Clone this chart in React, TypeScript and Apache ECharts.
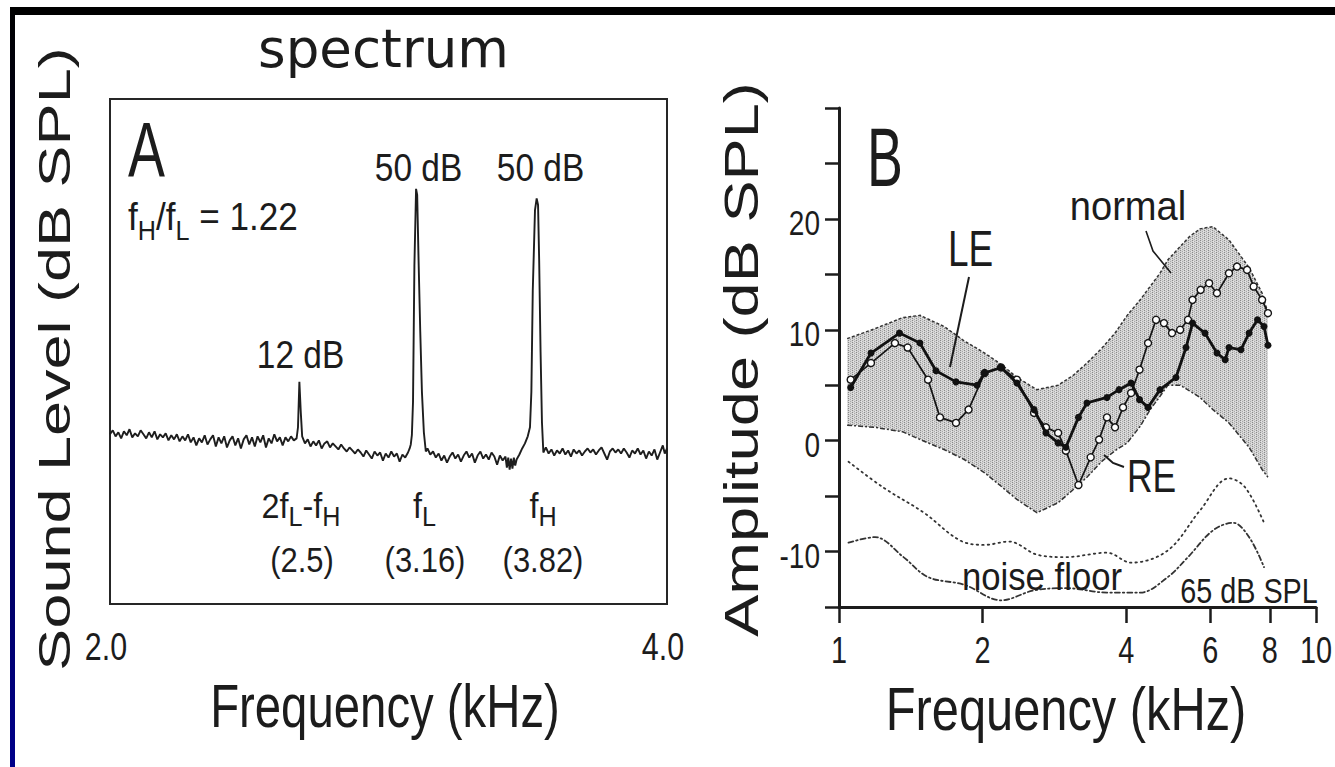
import { useEffect, useRef } from 'react';
import * as echarts from 'echarts';

// ---------- tick / label values ----------
const freqLabelsA = [2, 4];
const freqTicksB = [1, 2, 4, 6, 8, 10];
const ampLabelsB = [-10, 0, 10, 20];

// ---------- Panel A: measured spectrum [kHz, dB] ----------
const spectrumA: [number, number][] = [
  [2.00, 1.6], [2.01, 2.4], [2.02, 1.2], [2.03, 2.0], [2.04, 0.8], [2.05, 2.2], [2.06, 1.4], [2.07, 2.6], [2.08, 1.0], [2.09, 1.8],
  [2.10, 1.2], [2.11, 2.4], [2.12, 1.6], [2.13, 0.8], [2.14, 2.0], [2.15, 1.0], [2.16, 2.2], [2.17, 0.6], [2.18, 1.6], [2.19, 1.0],
  [2.20, 1.8], [2.21, 0.4], [2.22, 1.4], [2.23, 0.6], [2.24, 1.6], [2.25, 0.2], [2.26, 1.2], [2.27, 0.4], [2.28, 1.6], [2.29, 0.0],
  [2.30, 1.0], [2.31, -0.6], [2.32, 0.8], [2.33, 0.0], [2.34, 1.4], [2.35, -0.4], [2.36, 0.6], [2.37, 1.4], [2.38, -0.8], [2.39, 1.0],
  [2.40, -0.2], [2.41, 1.2], [2.42, -1.0], [2.43, 0.4], [2.44, 1.2], [2.45, -0.6], [2.46, 0.8], [2.47, -1.2], [2.48, 0.6], [2.49, 1.4],
  [2.50, -0.4], [2.51, 1.0], [2.52, -0.8], [2.53, 1.2], [2.54, 0.0], [2.55, 1.4], [2.56, -1.0], [2.57, 0.8], [2.58, -0.2], [2.59, 1.6],
  [2.60, 0.2], [2.61, 1.0], [2.62, -0.6], [2.63, 1.0], [2.64, 0.2], [2.65, 1.2], [2.66, 0.4], [2.67, 0.8],
  [2.675, 3.0], [2.68, 12.0], [2.685, 6.0], [2.69, 1.2],
  [2.70, -0.2], [2.71, 0.6], [2.72, -0.8], [2.73, 0.2], [2.74, -0.6], [2.75, 0.4], [2.76, -1.2], [2.77, -0.2], [2.78, 0.2], [2.79, -1.0],
  [2.80, -0.2], [2.81, -0.8], [2.82, -1.4], [2.83, -0.4], [2.84, -1.2], [2.85, -1.8], [2.86, -1.0], [2.87, -1.6], [2.88, -2.2], [2.89, -1.4],
  [2.90, -2.0], [2.91, -2.8], [2.92, -1.6], [2.93, -2.4], [2.94, -3.2], [2.95, -1.8], [2.96, -2.6], [2.97, -2.0], [2.98, -3.6], [2.99, -2.2],
  [3.00, -3.0], [3.01, -1.8], [3.02, -2.8], [3.03, -2.2], [3.04, -3.8], [3.05, -2.4], [3.06, -3.0], [3.07, -2.0], [3.076, -1.2], [3.080, -0.4],
  [3.084, 1.5], [3.088, 8], [3.093, 35], [3.099, 50.2], [3.103, 49], [3.108, 36], [3.114, 22], [3.12, 10], [3.127, 2], [3.134, -1.8],
  [3.14, -1.2], [3.15, -2.4], [3.16, -1.8], [3.17, -3.0], [3.18, -2.2], [3.19, -3.6], [3.20, -2.6], [3.21, -4.0], [3.22, -2.8], [3.23, -2.0],
  [3.24, -3.2], [3.25, -2.4], [3.26, -3.8], [3.27, -2.6], [3.28, -1.8], [3.29, -3.0], [3.30, -2.2], [3.31, -4.0], [3.32, -2.6], [3.33, -1.8],
  [3.34, -3.2], [3.35, -2.4], [3.36, -3.4], [3.37, -2.0], [3.38, -2.8], [3.39, -4.4], [3.40, -2.6], [3.41, -3.6], [3.42, -2.8], [3.425, -5.0],
  [3.43, -3.0], [3.435, -5.4], [3.44, -3.2], [3.445, -5.2], [3.45, -3.0], [3.455, -4.6], [3.46, -3.4], [3.47, -2.4], [3.48, -1.2], [3.49, -0.2],
  [3.50, 1.2], [3.508, 3.0], [3.513, 10], [3.518, 30], [3.526, 46], [3.532, 48.3], [3.537, 47], [3.541, 36], [3.546, 18], [3.551, 4], [3.556, -2.0],
  [3.565, -1.0], [3.575, -2.2], [3.585, -1.4], [3.595, -2.6], [3.605, -1.6], [3.615, -2.2], [3.625, -1.2], [3.635, -2.4], [3.645, -1.6], [3.655, -2.8],
  [3.665, -1.4], [3.675, -2.2], [3.685, -1.6], [3.695, -2.6], [3.705, -1.8], [3.715, -1.2], [3.725, -2.0], [3.735, -1.4], [3.745, -2.4], [3.755, -1.6],
  [3.765, -1.0], [3.775, -2.2], [3.785, -3.4], [3.795, -1.8], [3.805, -1.2], [3.815, -2.0], [3.825, -1.4], [3.835, -2.2], [3.845, -1.2], [3.855, -2.0],
  [3.865, -3.0], [3.875, -1.6], [3.885, -2.2], [3.895, -1.2], [3.905, -2.4], [3.915, -1.6], [3.925, -3.2], [3.935, -1.8], [3.945, -2.6], [3.955, -1.4],
  [3.965, -3.4], [3.975, -2.0], [3.985, -0.6], [3.992, -2.2], [4.00, -1.2],
];

// ---------- Panel B: normal range band ----------
const bandFreq = [1.04, 1.19, 1.36, 1.48, 1.66, 1.83, 2.02, 2.2, 2.36, 2.6, 2.88, 3.1, 3.31, 3.55, 3.79, 4.02, 4.28, 4.49, 4.71, 4.89, 5.19, 5.43, 5.71, 6.08, 6.57, 7.24, 7.71, 7.93];
const bandUpper = [9.2, 10.1, 11.1, 11.3, 10.3, 9.0, 7.9, 6.8, 5.7, 4.6, 5.0, 5.9, 7.0, 8.3, 9.7, 11.3, 12.7, 13.9, 15.1, 16.3, 17.5, 18.4, 19.1, 19.3, 18.1, 15.6, 13.3, 11.5];
const bandLower = [1.4, 1.2, 0.8, 0.1, -0.8, -1.7, -2.9, -4.2, -5.3, -6.5, -5.6, -4.4, -3.3, -1.9, -0.9, -0.2, 1.3, 2.8, 4.0, 5.0, 5.0, 4.5, 3.9, 2.8, 1.6, -0.6, -2.6, -3.3];

// ---------- Panel B: noise floors [kHz, dB] ----------
const noiseFloorHigh: [number, number][] = [
  [1.047, -1.9], [1.236, -4.2], [1.507, -6.5], [1.794, -9.0], [2.02, -9.4], [2.272, -9.1], [2.61, -10.3], [2.99, -10.5],
  [3.646, -10.1], [4.096, -11.0], [4.89, -9.9], [5.71, -6.3], [6.57, -3.4], [7.10, -4.2], [7.78, -7.4],
];
const noiseFloorLow: [number, number][] = [
  [1.047, -9.2], [1.19, -8.7], [1.365, -10.5], [1.537, -12.3], [1.833, -13.0], [2.186, -14.4], [2.564, -13.5], [2.99, -13.3],
  [3.646, -13.7], [4.28, -13.7], [4.89, -12.3], [5.39, -10.5], [6.08, -8.1], [6.70, -7.4], [7.24, -8.7], [7.78, -11.4],
];

// ---------- Panel B: ears [kHz, dB] ----------
const leftEar: [number, number][] = [
  [1.058, 4.8], [1.167, 7.9], [1.339, 9.7], [1.478, 8.8], [1.597, 6.3], [1.759, 5.3], [1.947, 5.0], [2.02, 6.1], [2.186, 6.6],
  [2.36, 5.2], [2.564, 2.8], [2.716, 0.7], [2.88, -0.2], [2.99, -0.6], [3.177, 2.1], [3.31, 3.4], [3.646, 3.9], [3.864, 4.6],
  [4.096, 5.2], [4.266, 3.7], [4.445, 3.0], [4.71, 4.6], [5.087, 5.7], [5.34, 8.4], [5.51, 10.6], [5.85, 9.7], [6.20, 7.9],
  [6.45, 7.3], [6.57, 8.4], [6.96, 8.2], [7.24, 9.7], [7.54, 10.9], [7.78, 10.3], [7.93, 8.6],
];
const rightEar: [number, number][] = [
  [1.058, 5.5], [1.167, 7.0], [1.31, 8.8], [1.393, 8.4], [1.537, 5.5], [1.628, 2.1], [1.759, 1.6], [1.869, 2.8], [2.02, 6.1],
  [2.186, 6.6], [2.36, 5.5], [2.564, 2.5], [2.716, 1.2], [2.88, 0.7], [2.99, -0.9], [3.177, -4.0], [3.37, -1.5], [3.51, 0.1],
  [3.646, 2.1], [3.79, 1.2], [3.94, 3.0], [4.096, 4.3], [4.266, 6.4], [4.445, 8.8], [4.62, 10.9], [4.80, 10.6], [4.99, 9.7],
  [5.19, 10.0], [5.39, 10.9], [5.51, 12.7], [5.73, 13.6], [5.97, 14.2], [6.20, 13.3], [6.57, 15.1], [6.83, 15.7], [7.17, 15.4],
  [7.40, 13.9], [7.71, 12.7], [7.93, 11.5],
];

// ---------- styling ----------
const SANS = "'Liberation Sans', Arial, Helvetica, sans-serif";
const INK = '#1c1c1c';

const lg = (f: number) => Math.log10(f);
const toB = (pts: [number, number][]) => pts.map(([f, v]) => [lg(f), v]);

function txt(text: string, x: number, y: number, size: number, sx: number, align = 'center', rotation = 0, family = SANS) {
  return {
    type: 'text',
    x,
    y,
    rotation,
    scaleX: sx,
    z: 20,
    silent: true,
    style: {
      text,
      font: `${size}px ${family}`,
      fill: INK,
      align,
      verticalAlign: 'middle',
      textAlign: align,
      textVerticalAlign: 'middle',
    },
  };
}

function leader(points: number[][], w = 2) {
  return { type: 'polyline', z: 20, silent: true, shape: { points }, style: { stroke: INK, lineWidth: w, fill: null } };
}

function stipple() {
  const c = document.createElement('canvas');
  c.width = 4;
  c.height = 4;
  const g = c.getContext('2d');
  if (!g) return '#c8c8c8';
  g.fillStyle = '#d3d3d3';
  g.fillRect(0, 0, 4, 4);
  g.fillStyle = '#8a8a8a';
  g.fillRect(0, 0, 1, 1);
  g.fillRect(0, 2, 1, 1);
  g.fillStyle = '#a9a9a9';
  g.fillRect(2, 1, 1, 1);
  g.fillRect(2, 3, 1, 1);
  g.fillStyle = '#e4e4e4';
  g.fillRect(1, 1, 1, 1);
  g.fillRect(3, 3, 1, 1);
  return { image: c, repeat: 'repeat' };
}

function staticGraphic(): any[] {
  return [
    // slide frame
    { type: 'rect', z: 30, shape: { x: 10, y: 7, width: 1325, height: 8 }, style: { fill: '#000' } },
    {
      type: 'rect', z: 30, shape: { x: 10, y: 7, width: 5, height: 760 },
      style: {
        fill: {
          type: 'linear', x: 0, y: 0, x2: 0, y2: 1,
          colorStops: [{ offset: 0, color: '#000000' }, { offset: 0.45, color: '#00003a' }, { offset: 1, color: '#00008a' }],
        },
      },
    },
    txt('spectrum', 383.5, 48.7, 53, 1, 'center', 0, "'DejaVu Sans', Verdana, sans-serif"),

    // ---- panel A texts ----
    txt('Sound Level (dB SPL)', 54, 359, 45, 1.4, 'center', Math.PI / 2),
    txt('Frequency (kHz)', 385, 706, 61, 0.776),
    txt('A', 128, 150.5, 77, 0.72, 'left'),
    txt('f', 128, 216.4, 39, 0.9, 'left'),
    txt('H', 137.8, 230.2, 28, 0.9, 'left'),
    txt('/f', 156, 216.4, 39, 0.9, 'left'),
    txt('L', 175.5, 230.2, 28, 0.9, 'left'),
    txt('= 1.22', 199.3, 216.4, 39, 0.9, 'left'),
    txt('50 dB', 418.5, 168.5, 38, 0.88),
    txt('50 dB', 540.5, 168.5, 38, 0.88),
    txt('12 dB', 300.5, 355.5, 38, 0.88),
    txt('2f', 261.5, 505.4, 36, 0.9, 'left'),
    txt('L', 288.5, 516.2, 28, 0.9, 'left'),
    txt('-f', 302.5, 505.4, 36, 0.9, 'left'),
    txt('H', 322.3, 516.2, 28, 0.9, 'left'),
    txt('f', 413, 505.4, 36, 0.9, 'left'),
    txt('L', 422, 516.2, 28, 0.9, 'left'),
    txt('f', 529.4, 505.4, 36, 0.9, 'left'),
    txt('H', 538.4, 516.2, 28, 0.9, 'left'),
    txt('(2.5)', 302, 560, 36, 0.86),
    txt('(3.16)', 425, 560, 36, 0.86),
    txt('(3.82)', 543, 560, 36, 0.86),

    // ---- panel B texts ----
    txt('Amplitude (dB SPL)', 741, 359.5, 47.5, 1.33, 'center', Math.PI / 2),
    txt('Frequency (kHz)', 1066, 709, 61, 0.8),
    txt('B', 867, 157, 84, 0.64, 'left'),
    txt('normal', 1128, 205.8, 41, 0.93),
    txt('LE', 970.5, 248, 50, 0.74),
    txt('RE', 1151.5, 476.5, 46, 0.77),
    txt('noise floor', 1042, 576.5, 39, 0.89),
    txt('65 dB SPL', 1249, 590, 36, 0.8),
    leader([[969, 277], [950, 367]], 2),
    leader([[1146, 231], [1153, 251], [1171, 273]], 1.6),
    leader([[1104, 455], [1113, 463], [1124, 467]], 2),
  ];
}

function buildOption() {
  const axisLineB = { show: true, onZero: false, lineStyle: { color: INK, width: 3 } };
  const tickStyleB = { color: INK, width: 2.5 };
  const bandFill = stipple();

  return {
    animation: false,
    backgroundColor: '#ffffff',
    grid: [
      { left: 110, top: 99, width: 557, height: 505, show: true, borderColor: '#262626', borderWidth: 2, backgroundColor: 'transparent' },
      { left: 839, top: 108, width: 477, height: 499, show: false },
    ],
    xAxis: [
      {
        type: 'value', gridIndex: 0, min: freqLabelsA[0], max: freqLabelsA[1], interval: 2,
        axisLine: { show: false, onZero: false }, axisTick: { show: false }, splitLine: { show: false },
        axisLabel: { show: false },
      },
      {
        type: 'value', gridIndex: 1, min: 0, max: 1,
        axisLine: axisLineB,
        axisTick: { show: true, customValues: freqTicksB.map(lg), length: 16, lineStyle: tickStyleB },
        axisLabel: { show: false },
        splitLine: { show: false },
      },
    ],
    yAxis: [
      { type: 'value', gridIndex: 0, min: -32, max: 68, show: false },
      {
        type: 'value', gridIndex: 1, min: -15, max: 30, interval: 5,
        axisLine: axisLineB,
        axisTick: { show: true, length: 14, lineStyle: tickStyleB },
        axisLabel: { show: false },
        splitLine: { show: false },
      },
    ],
    series: [
      {
        name: 'spectrum', type: 'line', xAxisIndex: 0, yAxisIndex: 0, data: spectrumA, symbol: 'none',
        lineStyle: { color: '#1e1e1e', width: 1.9 }, z: 3,
      },
      {
        name: 'normal', type: 'custom', xAxisIndex: 1, yAxisIndex: 1, z: 2, silent: true,
        data: bandFreq.map((f, i) => [lg(f), bandUpper[i], bandLower[i]]),
        encode: { x: 0, y: [1, 2] },
        renderItem: (params: any, api: any) => {
          if (params.dataIndex !== 0) return null;
          const up = bandFreq.map((f, i) => api.coord([lg(f), bandUpper[i]]));
          const lo = bandFreq.map((f, i) => api.coord([lg(f), bandLower[i]]));
          return {
            type: 'group',
            children: [
              { type: 'polygon', shape: { points: up.concat(lo.slice().reverse()) }, style: { fill: bandFill, stroke: null } },
              { type: 'polyline', shape: { points: up }, style: { fill: null, stroke: '#333', lineWidth: 1.5, lineDash: [3, 2] } },
              { type: 'polyline', shape: { points: lo }, style: { fill: null, stroke: '#333', lineWidth: 1.5, lineDash: [5, 2, 2, 2] } },
            ],
          };
        },
      },
      {
        name: 'noise floor high', type: 'line', xAxisIndex: 1, yAxisIndex: 1, data: toB(noiseFloorHigh), symbol: 'none', smooth: 0.35,
        lineStyle: { color: '#333', width: 1.8, type: [1.5, 4], cap: 'round' }, z: 3,
      },
      {
        name: 'noise floor low', type: 'line', xAxisIndex: 1, yAxisIndex: 1, data: toB(noiseFloorLow), symbol: 'none', smooth: 0.35,
        lineStyle: { color: '#333', width: 1.8, type: [5, 3, 1.5, 3], cap: 'round' }, z: 3,
      },
      {
        name: 'RE', type: 'line', xAxisIndex: 1, yAxisIndex: 1, data: toB(rightEar), symbol: 'circle', symbolSize: 7,
        showAllSymbol: true, lineStyle: { color: '#151515', width: 1.7 },
        itemStyle: { color: '#ffffff', borderColor: '#151515', borderWidth: 1.4 }, z: 4,
      },
      {
        name: 'LE', type: 'line', xAxisIndex: 1, yAxisIndex: 1, data: toB(leftEar), symbol: 'circle', symbolSize: 7,
        showAllSymbol: true, lineStyle: { color: '#111', width: 2.8 },
        itemStyle: { color: '#111' }, z: 5,
      },
    ],
    graphic: staticGraphic(),
  };
}

export default function App() {
  const ref = useRef<HTMLDivElement>(null);
  useEffect(() => {
    if (!ref.current) return;
    const chart = echarts.init(ref.current, undefined, { renderer: 'svg' });
    chart.setOption(buildOption() as any);

    // tick labels, positioned through the axes' own scales
    const px = (xi: number, v: number) => chart.convertToPixel({ xAxisIndex: xi } as any, v) as unknown as number;
    const py = (yi: number, v: number) => chart.convertToPixel({ yAxisIndex: yi } as any, v) as unknown as number;
    const tickLabels: any[] = [
      ...freqLabelsA.map((v) => txt(v.toFixed(1), px(0, v) - 4, 646, 39, 0.78)),
      ...freqTicksB.map((f) => txt(String(f), px(1, lg(f)), 650, 37, 0.78)),
      ...ampLabelsB.map((v) => txt(String(v), 820, py(1, v) + 4, 35, 0.8, 'right')),
    ];
    chart.setOption({ graphic: [...staticGraphic(), ...tickLabels] } as any);
    return () => chart.dispose();
  }, []);
  return (
    <div
      ref={ref}
      style={{ position: 'absolute', left: 0, top: 0, width: 1335, height: 767, background: '#ffffff' }}
    />
  );
}
